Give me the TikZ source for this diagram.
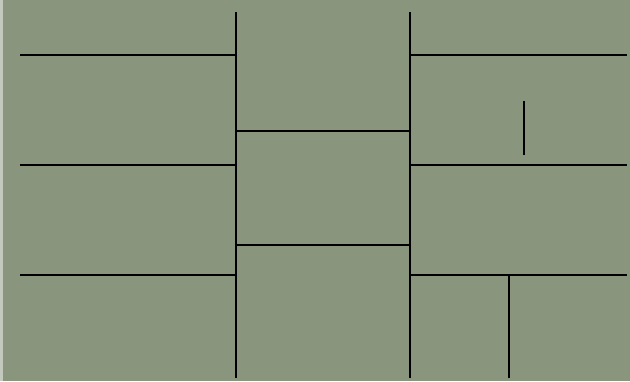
\documentclass[tikz,border=0pt]{standalone}
\usepackage{tikz}
\definecolor{sage}{RGB}{138,149,126}
\definecolor{edgepale}{RGB}{196,201,190}

\begin{document}
\begin{tikzpicture}[x=1pt,y=-1pt,line width=2.4pt,wall/.style={draw=black,line cap=butt}]
\useasboundingbox (0,0) rectangle (630,381);
\fill[sage] (0,0) rectangle (630,381);
\fill[edgepale] (0,0) rectangle (3,381);
\draw[wall] (236,12)--(236,378);
\draw[wall] (410,12)--(410,378);
\foreach \y in {55,165,275} {
  \draw[wall] (20,\y)--(236,\y);
  \draw[wall] (410,\y)--(627,\y);
}
\draw[wall] (236,131)--(410,131);
\draw[wall] (236,245)--(410,245);
\draw[wall] (524,101)--(524,155);
\draw[wall] (509,275)--(509,378);
\end{tikzpicture}
\end{document}
